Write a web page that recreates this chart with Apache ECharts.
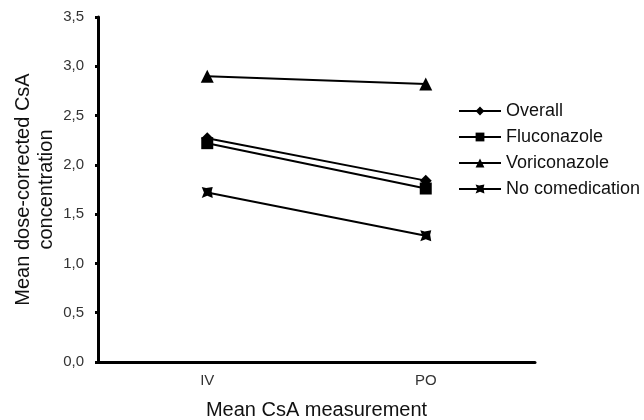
<!DOCTYPE html>
<html><head><meta charset="utf-8">
<script src="https://cdn.jsdelivr.net/npm/echarts@6/dist/echarts.min.js"></script>
<style>html,body{margin:0;padding:0;background:#fff}#c{width:644px;height:420px}</style>
</head><body><div id="c"></div>
<script>
var categories = ['IV', 'PO'];
var seriesNames = ['Overall', 'Fluconazole', 'Voriconazole', 'No comedication'];
var overall = [2.27, 1.84];
var fluconazole = [2.22, 1.76];
var voriconazole = [2.90, 2.82];
var noComedication = [1.72, 1.28];
var yTicks = [0, 0.5, 1, 1.5, 2, 2.5, 3, 3.5];

var symbols = ['diamond', 'rect', 'triangle', 'path://M0,0 L4,1 L10,0 L9,4 L10,10 L5,8 L0,10 L2,5 Z'];
var sizes = [12, 12, 13, 11];
var data = [overall, fluconazole, voriconazole, noComedication];

var chart = echarts.init(document.getElementById('c'));
chart.setOption({
  animation: false,
  grid: {left: 98, right: 109, top: 17, bottom: 58, containLabel: false, outerBoundsMode: 'none'},
  legend: {
    orient: 'vertical', left: 453, top: 97, itemGap: 8, itemWidth: 42, itemHeight: 11,
    textStyle: {fontFamily: 'Liberation Sans', fontSize: 18, color: '#111'},
    data: seriesNames
  },
  xAxis: {
    type: 'category', data: categories, boundaryGap: true,
    name: 'Mean CsA measurement', nameLocation: 'middle', nameGap: 38,
    nameTextStyle: {fontFamily: 'Liberation Sans', fontSize: 20, color: '#111'},
    axisLine: {lineStyle: {color: '#000', width: 3}},
    axisTick: {alignWithLabel: true, length: 3, lineStyle: {width: 3, color: '#000'}},
    axisLabel: {fontFamily: 'Liberation Sans', fontSize: 15, color: '#333', margin: 11}
  },
  yAxis: {
    type: 'value', min: 0, max: 3.5, interval: 0.5,
    name: 'Mean dose-corrected CsA\nconcentration', nameLocation: 'middle', nameGap: 40,
    nameMoveOverlap: false,
    nameTextStyle: {fontFamily: 'Liberation Sans', fontSize: 20, color: '#111', lineHeight: 23},
    axisLine: {show: true, lineStyle: {color: '#000', width: 3}},
    axisTick: {show: true, length: 3, lineStyle: {width: 3, color: '#000'}},
    splitLine: {show: false},
    axisLabel: {fontFamily: 'Liberation Sans', fontSize: 15, color: '#333', margin: 14,
      formatter: function (v) { return v.toFixed(1).replace('.', ','); }}
  },
  series: seriesNames.map(function (n, i) {
    return {
      name: n, type: 'line', data: data[i], symbol: symbols[i], symbolSize: sizes[i],
      lineStyle: {color: '#000', width: 2}, itemStyle: {color: '#000'}
    };
  })
});
</script></body></html>
